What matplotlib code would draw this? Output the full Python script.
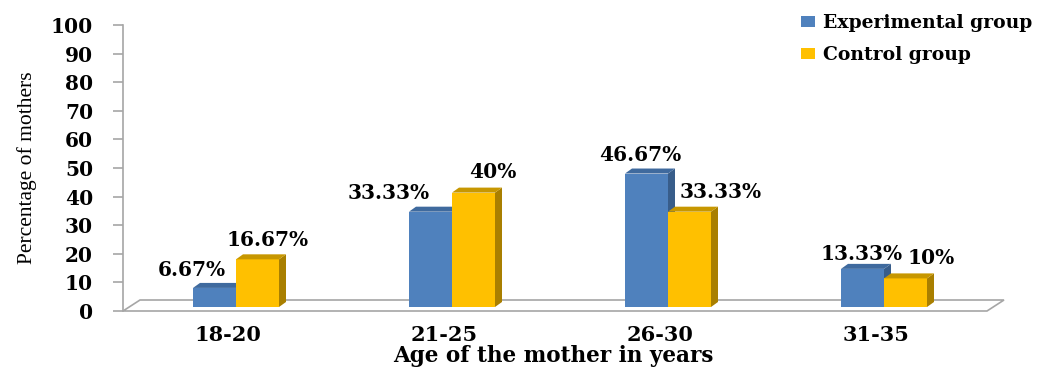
import matplotlib
matplotlib.use("Agg")
import matplotlib.pyplot as plt
from matplotlib.patches import Polygon, Patch
import numpy as np

categories = ["18-20", "21-25", "26-30", "31-35"]
experimental = [6.67, 33.33, 46.67, 13.33]
control = [16.67, 40, 33.33, 10]
series_names = ["Experimental group", "Control group"]
y_ticks = [0, 10, 20, 30, 40, 50, 60, 70, 80, 90, 100]

W, H = 1056, 368
fig = plt.figure(figsize=(W / 100, H / 100), dpi=100)
ax_left, ax_right, ax_bot, ax_top = 123, 1005, 311, 25
ax = fig.add_axes([ax_left / W, (H - ax_bot) / H, (ax_right - ax_left) / W, (ax_bot - ax_top) / H])

px_x = 216.0  # pixels per category
px_y = (ax_bot - ax_top) / 100.0
ax.set_xlim(-(236 - ax_left) / px_x, 3 + (ax_right - 884) / px_x)
ax.set_ylim(0, 100)

bold = dict(family="DejaVu Serif", weight="bold")

# colours
blue_front, blue_side, blue_top = "#4F81BD", "#385D8A", "#3F6A9E"
yel_front, yel_side, yel_top = "#FFC000", "#A97F00", "#C79700"

bw = 43 / px_x
ddx = 7 / px_x
ddy = 5 / px_y
base = 4 / px_y

x = np.arange(len(categories))

# floor
fx0, fx1 = ax.get_xlim()[0], 3 + (987 - 884) / px_x
fdx, fdy = 17 / px_x, 11 / px_y
floor = Polygon([(fx0, 0), (fx1, 0), (fx1 + fdx, fdy), (fx0 + fdx, fdy)], closed=True,
                facecolor="white", edgecolor="#A6A6A6", lw=1.2, clip_on=False, zorder=1)
ax.add_patch(floor)


def bar3d(x0, h, front, side, top):
    b = base
    t = base + h
    ax.add_patch(Polygon([(x0, b), (x0 + bw, b), (x0 + bw, t), (x0, t)], closed=True,
                         facecolor=front, edgecolor="none", zorder=3, clip_on=False))
    ax.add_patch(Polygon([(x0 + bw, b), (x0 + bw + ddx, b + ddy), (x0 + bw + ddx, t + ddy), (x0 + bw, t)],
                         closed=True, facecolor=side, edgecolor="none", zorder=3, clip_on=False))
    ax.add_patch(Polygon([(x0, t), (x0 + ddx, t + ddy), (x0 + bw + ddx, t + ddy), (x0 + bw, t)],
                         closed=True, facecolor=top, edgecolor="none", zorder=3, clip_on=False))


for i in range(len(categories)):
    bar3d(x[i] - bw, experimental[i], blue_front, blue_side, blue_top)
    bar3d(x[i], control[i], yel_front, yel_side, yel_top)

# data labels (pixel offsets from bar centre)
exp_off = [-23, -42, -6, -1]
ctl_off = [10, 19, 31, 26]
lab_dy = [18, 19, 19, 15]
lab_dy2 = [19, 21, 20, 20]
for i in range(len(categories)):
    ax.annotate(f"{experimental[i]:g}%", (x[i] - bw / 2, base + experimental[i]),
                xytext=(exp_off[i] * 0.72, lab_dy[i] * 0.72), textcoords="offset points",
                ha="center", va="center", fontsize=14.5, zorder=5, **bold)
    ax.annotate(f"{control[i]:g}%", (x[i] + bw / 2, base + control[i]),
                xytext=(ctl_off[i] * 0.72, lab_dy2[i] * 0.72), textcoords="offset points",
                ha="center", va="center", fontsize=14.5, zorder=5, **bold)

# axes styling
for s in ["top", "right", "bottom"]:
    ax.spines[s].set_visible(False)
ax.spines["left"].set_color("#A6A6A6")
ax.spines["left"].set_linewidth(1.2)
ax.set_yticks(y_ticks)
ax.set_yticklabels([str(v) for v in y_ticks], fontsize=14.5, **bold)
ax.tick_params(axis="y", direction="out", length=7.5, width=1.2, color="#A6A6A6", pad=14)
ax.set_xticks(x - 8 / px_x)
ax.set_xticklabels(categories, fontsize=15, **bold)
ax.tick_params(axis="x", length=0, pad=10)

fig.text(27 / W, 1 - 168 / H, "Percentage of mothers", rotation=90, ha="center", va="center",
         fontsize=15.5, family="Liberation Serif")
fig.text(553 / W, 1 - 362 / H, "Age of the mother in years", ha="center", va="baseline",
         fontsize=15.5, **bold)

handles = [Patch(facecolor=blue_front), Patch(facecolor=yel_front)]
fig.legend(handles, series_names, loc="upper left", bbox_to_anchor=(788 / W, 1 - 1 / H),
           frameon=False, handlelength=0.75, handleheight=0.5, handletextpad=0.4,
           labelspacing=0.75, prop=dict(family="DejaVu Serif", weight="bold", size=13.5), borderpad=0.2)

fig.savefig("out.png", dpi=100)
